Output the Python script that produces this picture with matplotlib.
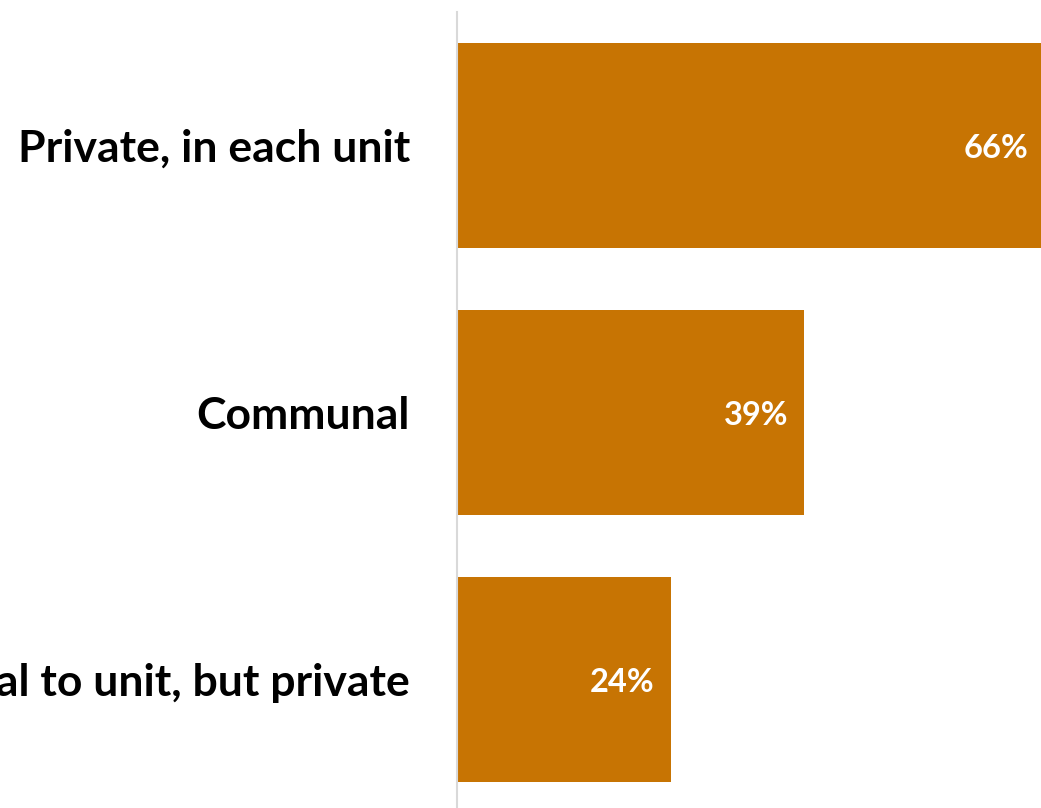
import matplotlib
matplotlib.use("Agg")
import matplotlib.pyplot as plt

categories = ["Private, in each unit", "Communal", "External to unit, but private"]
values = [66, 39, 24]
value_labels = ["66%", "39%", "24%"]

BAR_COLOR = "#C77403"
DPI = 100
W, H = 1041, 808

plt.rcParams["font.family"] = ["Lato", "DejaVu Sans"]

fig = plt.figure(figsize=(W / DPI, H / DPI), dpi=DPI)
ax = fig.add_axes([457 / W, 0, 1 - 457 / W, 1 - 12 / H])

y = list(range(len(categories)))
ax.barh(y, values, height=0.768, color=BAR_COLOR)

ax.set_xlim(0, 584 / 8.9)
ax.set_ylim(2.481, -0.5)

for yi, v, lab in zip(y, values, value_labels):
    ax.annotate(lab, xy=(v, yi), xytext=(-11.5, -2), textcoords="offset points",
                ha="right", va="center", color="white", fontsize=23.5,
                fontweight="bold", annotation_clip=False)

ax.set_yticks(y)
ax.set_yticklabels(categories, fontsize=32, fontweight="bold")
ax.tick_params(axis="y", length=0, pad=34)
ax.set_xticks([])

for side in ("top", "right", "bottom"):
    ax.spines[side].set_visible(False)
ax.spines["left"].set_color("#D9D9D9")
ax.spines["left"].set_linewidth(1.5)

fig.savefig("out.png", dpi=DPI)
